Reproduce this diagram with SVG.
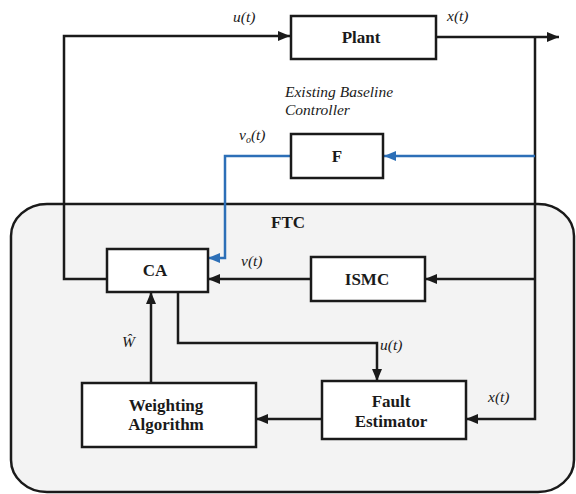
<svg xmlns="http://www.w3.org/2000/svg" width="576" height="494" viewBox="0 0 576 494">
  <defs>
    <style>
      .box { fill: #ffffff; stroke: #1a1a1a; stroke-width: 2.5; }
      .lbl { font-weight: bold; font-size: 17px; fill: #1a1a1a; text-anchor: middle; }
      .sig { font-style: italic; font-size: 15.5px; fill: #1a1a1a; }
      .wire { fill: none; stroke: #1a1a1a; stroke-width: 2.5; }
      .wire-blue { fill: none; stroke: #2c6fb7; stroke-width: 2.5; }
    </style>
    <marker id="arrow" viewBox="0 0 12 10" refX="12" refY="5" markerWidth="12" markerHeight="10" markerUnits="userSpaceOnUse" orient="auto">
      <path d="M0,0 L12,5 L0,10 z" fill="#1a1a1a"/>
    </marker>
    <marker id="arrow-blue" viewBox="0 0 12 10" refX="12" refY="5" markerWidth="12" markerHeight="10" markerUnits="userSpaceOnUse" orient="auto">
      <path d="M0,0 L12,5 L0,10 z" fill="#2c6fb7"/>
    </marker>
  </defs>

  <rect width="576" height="494" fill="#ffffff"/>

  <g font-family="'Liberation Serif', 'DejaVu Serif', serif">
  <!-- FTC container -->
  <g id="ftc">
    <rect x="11" y="204" width="563" height="288" rx="36" ry="32" fill="#f3f3f3" stroke="#1a1a1a" stroke-width="2.5"/>
    <text class="lbl" x="288" y="228">FTC</text>
  </g>

  <!-- connectors -->
  <g id="connectors">
    <polyline class="wire" points="107,279 64,279 64,36 290,36" marker-end="url(#arrow)"/>
    <polyline class="wire" points="436,37 559,37" marker-end="url(#arrow)"/>
    <polyline class="wire" points="535,37 535,419 466,419" marker-end="url(#arrow)"/>
    <polyline class="wire-blue" points="535,156 384,156" marker-end="url(#arrow-blue)"/>
    <polyline class="wire-blue" points="291,156 225,156 225,258 208,258" marker-end="url(#arrow-blue)"/>
    <polyline class="wire" points="535,279 425,279" marker-end="url(#arrow)"/>
    <polyline class="wire" points="311,279 208,279" marker-end="url(#arrow)"/>
    <polyline class="wire" points="178,292 178,343 377,343 377,381" marker-end="url(#arrow)"/>
    <polyline class="wire" points="151,383 151,292" marker-end="url(#arrow)"/>
    <polyline class="wire" points="322,419 256,419" marker-end="url(#arrow)"/>
  </g>

  <!-- signal labels -->
  <g id="signals">
    <text class="sig" x="233" y="22">u(t)</text>
    <text class="sig" x="447" y="21">x(t)</text>
    <text class="sig" x="285" y="97" font-size="17.5">Existing Baseline</text>
    <text class="sig" x="285" y="115" font-size="17.5">Controller</text>
    <text class="sig" x="239" y="140">v<tspan font-size="10" dy="3">o</tspan><tspan dy="-3">(t)</tspan></text>
    <text class="sig" x="241" y="266">v(t)</text>
    <text class="sig" x="380" y="350">u(t)</text>
    <text class="sig" x="122" y="347" font-size="19">Ŵ</text>
    <text class="sig" x="488" y="402">x(t)</text>
  </g>

  <g id="plant">
    <rect class="box" x="291" y="16" width="145" height="43"/>
    <text class="lbl" x="361" y="43">Plant</text>
  </g>

  <g id="baseline-f">
    <rect class="box" x="291" y="134" width="92" height="44"/>
    <text class="lbl" x="337" y="162">F</text>
  </g>

  <g id="ca">
    <rect class="box" x="107" y="249" width="101" height="43"/>
    <text class="lbl" x="155" y="276">CA</text>
  </g>

  <g id="ismc">
    <rect class="box" x="311" y="257" width="114" height="44"/>
    <text class="lbl" x="367" y="285">ISMC</text>
  </g>

  <g id="weighting">
    <rect class="box" x="82" y="383" width="174" height="64"/>
    <text class="lbl" x="166" y="411">Weighting</text>
    <text class="lbl" x="166" y="430">Algorithm</text>
  </g>

  <g id="fault-estimator">
    <rect class="box" x="322" y="381" width="144" height="58"/>
    <text class="lbl" x="391" y="407">Fault</text>
    <text class="lbl" x="391" y="427">Estimator</text>
  </g>
  </g>
</svg>
